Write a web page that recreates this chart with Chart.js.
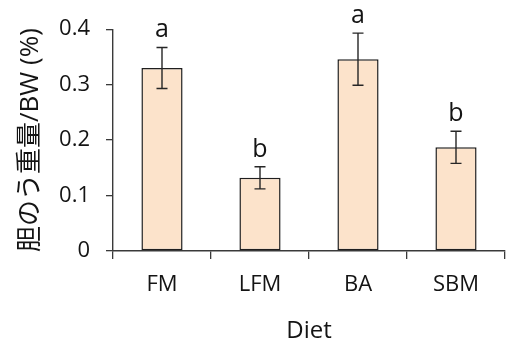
<!DOCTYPE html>
<html>
<head>
<meta charset="utf-8">
<script src="https://cdn.jsdelivr.net/npm/chart.js@4/dist/chart.umd.min.js"></script>
<style>
  html, body { margin: 0; padding: 0; background: #ffffff; }
  #wrap { width: 506px; height: 343px; }
</style>
</head>
<body>
<div id="wrap"><canvas id="chart" width="506" height="343"></canvas></div>
<script>
// Gallbladder weight relative to body weight, by diet
const diets = ['FM', 'LFM', 'BA', 'SBM'];
const meanRatio = [0.330, 0.132, 0.346, 0.187];
const errRatio = [0.037, 0.020, 0.047, 0.029];
const groupLetters = ['a', 'b', 'a', 'b'];
const yTicks = [0, 0.1, 0.2, 0.3, 0.4];

const FONT = "'Open Sans', 'Noto Sans CJK JP', sans-serif";
const INK = '#141414';
const AXIS = '#3a3a3a';

// Error bars with caps and the significance letters above them
const errorBarPlugin = {
  id: 'errorBars',
  afterDatasetsDraw(chart) {
    const ctx = chart.ctx;
    const meta = chart.getDatasetMeta(0);
    const y = chart.scales.y;
    ctx.save();
    ctx.strokeStyle = '#262626';
    ctx.lineWidth = 1.4;
    meta.data.forEach((bar, i) => {
      const x = bar.x;
      const top = y.getPixelForValue(meanRatio[i] + errRatio[i]);
      const bottom = y.getPixelForValue(meanRatio[i] - errRatio[i]);
      const cap = 5.5;
      ctx.beginPath();
      ctx.moveTo(x, top); ctx.lineTo(x, bottom);
      ctx.moveTo(x - cap, top); ctx.lineTo(x + cap, top);
      ctx.moveTo(x - cap, bottom); ctx.lineTo(x + cap, bottom);
      ctx.stroke();
      ctx.fillStyle = INK;
      ctx.font = "25px " + FONT;
      ctx.textAlign = 'center';
      ctx.textBaseline = 'alphabetic';
      ctx.fillText(groupLetters[i], x, top - 10);
    });
    ctx.restore();
  }
};

new Chart(document.getElementById('chart'), {
  type: 'bar',
  data: {
    labels: diets,
    datasets: [{
      data: meanRatio,
      backgroundColor: '#fce3cb',
      borderColor: '#1f1f1f',
      borderWidth: 1.5,
      borderSkipped: false,
      barPercentage: 0.42,
      categoryPercentage: 1.0
    }]
  },
  options: {
    responsive: false,
    animation: false,
    events: [],
    layout: { padding: { top: 25, right: 1, bottom: 0, left: 0 } },
    plugins: { legend: { display: false }, tooltip: { enabled: false } },
    scales: {
      x: {
        type: 'category',
        offset: true,
        grid: {
          offset: true,
          drawOnChartArea: false,
          drawTicks: true,
          tickLength: 8,
          color: AXIS,
          lineWidth: 1.3
        },
        border: { display: true, color: AXIS, width: 1.4 },
        ticks: { color: INK, font: { family: FONT, size: 22 }, padding: 13 },
        title: {
          display: true,
          text: 'Diet',
          color: INK,
          font: { family: FONT, size: 24, lineHeight: 1.0 },
          padding: { top: 0, bottom: 0 }
        },
        afterFit(scale) { scale.height = 92; }
      },
      y: {
        min: 0,
        max: 0.4,
        afterBuildTicks(scale) { scale.ticks = yTicks.map(v => ({ value: v })); },
        grid: {
          drawOnChartArea: false,
          drawTicks: true,
          tickLength: 7,
          color: AXIS,
          lineWidth: 1.3
        },
        border: { display: true, color: AXIS, width: 1.4 },
        ticks: {
          color: INK,
          font: { family: FONT, size: 22 },
          padding: 16,
          callback: v => (v === 0 ? '0' : v.toFixed(1))
        },
        title: {
          display: true,
          text: '胆のう重量/BW (%)',
          color: INK,
          font: { family: FONT, size: 26 },
          padding: { top: 15, bottom: 0 }
        },
        afterFit(scale) { scale.width = 113; }
      }
    }
  },
  plugins: [errorBarPlugin]
});
</script>
</body>
</html>
